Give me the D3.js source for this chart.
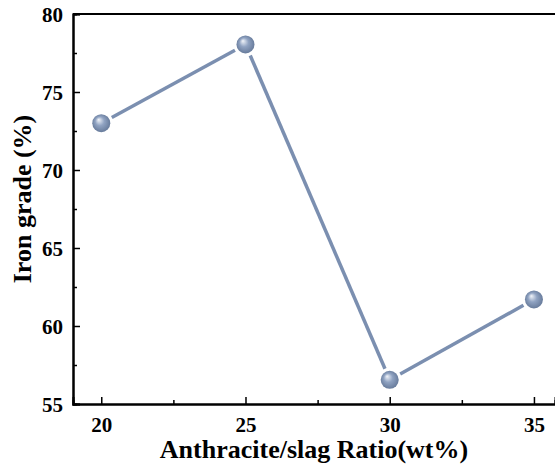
<!DOCTYPE html>
<html>
<head>
<meta charset="utf-8">
<script src="https://cdn.jsdelivr.net/npm/d3@7"></script>
<style>
  body { margin: 0; background: #fff; }
  text { font-family: "Liberation Serif", "Times New Roman", serif; font-weight: bold; }
</style>
</head>
<body>
<svg id="chart"></svg>
<script>
// data
const ratios = [20, 25, 30, 35];
const ironGrade = [73.0, 78.05, 56.55, 61.7];
const xTicks = [20, 25, 30, 35];
const yTicks = [55, 60, 65, 70, 75, 80];

const W = 555, H = 465;
const margin = { top: 14, right: 0, bottom: 61, left: 73 };
const width = W - margin.left - margin.right;
const height = H - margin.top - margin.bottom;

const svg = d3.select("#chart").attr("width", W).attr("height", H);
const g = svg.append("g").attr("transform", `translate(${margin.left},${margin.top})`);

const x = d3.scaleLinear().domain([19.02, 35.73]).range([0, width]);
const y = d3.scaleLinear().domain([55, 80]).range([height, 0]);

// sphere gradient
const defs = svg.append("defs");
const grad = defs.append("radialGradient").attr("id", "ball")
  .attr("cx", "0.5").attr("cy", "0.5").attr("r", "0.55")
  .attr("fx", "0.35").attr("fy", "0.3");
grad.append("stop").attr("offset", "0%").attr("stop-color", "#f2f5fa");
grad.append("stop").attr("offset", "45%").attr("stop-color", "#90a3c2");
grad.append("stop").attr("offset", "100%").attr("stop-color", "#627696");

// line segments with gaps around the markers
const pts = ratios.map((r, i) => [x(r), y(ironGrade[i])]);
const gap = 12;
const segs = d3.pairs(pts).map(([a, b]) => {
  const dx = b[0] - a[0], dy = b[1] - a[1];
  const len = Math.hypot(dx, dy);
  const ux = dx / len, uy = dy / len;
  return [a[0] + ux * gap, a[1] + uy * gap, b[0] - ux * gap, b[1] - uy * gap];
});
g.selectAll("line.seg").data(segs).join("line").attr("class", "seg")
  .attr("x1", d => d[0]).attr("y1", d => d[1])
  .attr("x2", d => d[2]).attr("y2", d => d[3])
  .attr("stroke", "#7b8fb0").attr("stroke-width", 3.5);

g.selectAll("circle.pt").data(pts).join("circle").attr("class", "pt")
  .attr("cx", d => d[0]).attr("cy", d => d[1]).attr("r", 9)
  .attr("fill", "url(#ball)");

// axes
const xAxis = g.append("g").attr("transform", `translate(0,${height})`)
  .call(d3.axisBottom(x).tickValues(xTicks).tickSize(-7).tickPadding(13).tickFormat(d3.format("d")));
const xMinor = g.append("g").attr("transform", `translate(0,${height})`)
  .call(d3.axisBottom(x).tickValues([22.5, 27.5, 32.5]).tickSize(-4).tickFormat(""));
const yAxis = g.append("g")
  .call(d3.axisLeft(y).tickValues(yTicks).tickSize(-7).tickPadding(10).tickFormat(d3.format("d")));
const yMinor = g.append("g")
  .call(d3.axisLeft(y).tickValues([57.5, 62.5, 67.5, 72.5, 77.5]).tickSize(-4).tickFormat(""));

[xAxis, xMinor, yAxis, yMinor].forEach(a => {
  a.select(".domain").attr("stroke", "#000").attr("stroke-width", 2);
  a.selectAll(".tick line").attr("stroke", "#000").attr("stroke-width", 1.5);
  a.selectAll(".tick text").attr("fill", "#000").style("font-size", "21px");
});
yAxis.selectAll(".tick text").attr("dy", "0.35em");

// top border
g.append("line").attr("x1", 0).attr("x2", width).attr("y1", 0).attr("y2", 0)
  .attr("stroke", "#000").attr("stroke-width", 2);

// titles
svg.append("text").attr("x", 314).attr("y", 458)
  .attr("text-anchor", "middle").style("font-size", "26px")
  .text("Anthracite/slag Ratio(wt%)");
svg.append("text")
  .attr("transform", `translate(31,199) rotate(-90)`)
  .attr("text-anchor", "middle").style("font-size", "26px")
  .text("Iron grade (%)");
</script>
</body>
</html>
